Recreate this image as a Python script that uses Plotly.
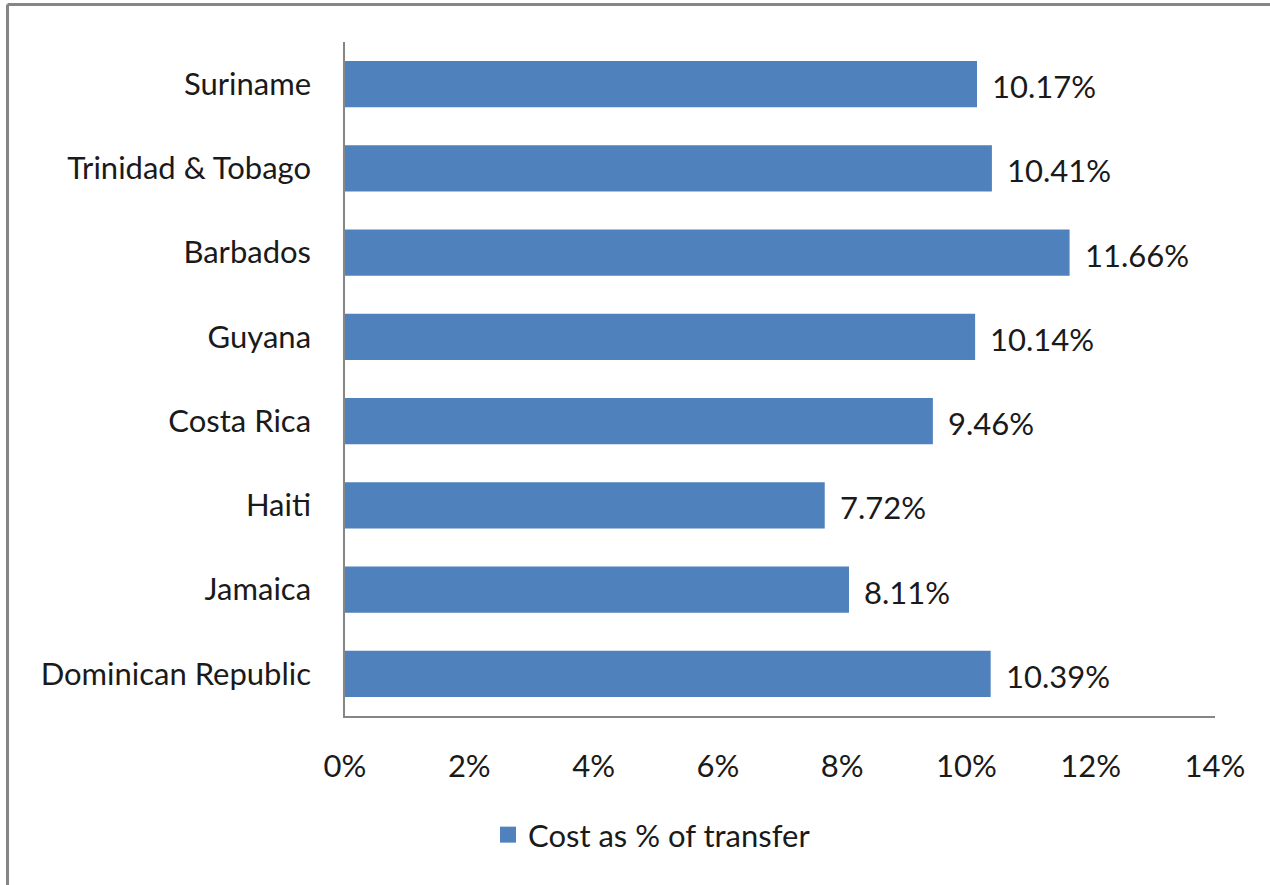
import plotly.graph_objects as go

countries = ["Dominican Republic", "Jamaica", "Haiti", "Costa Rica", "Guyana",
             "Barbados", "Trinidad & Tobago", "Suriname"]
values = [10.39, 8.11, 7.72, 9.46, 10.14, 11.66, 10.41, 10.17]
labels = ["10.39%", "8.11%", "7.72%", "9.46%", "10.14%", "11.66%", "10.41%", "10.17%"]
x_ticks = [0, 2, 4, 6, 8, 10, 12, 14]
x_ticklabels = ["0%", "2%", "4%", "6%", "8%", "10%", "12%", "14%"]
series_name = "Cost as % of transfer"

FONT = "Lato"
FS = 31
BAR = "#4F81BD"
TXT = "#1a1a1a"
FRAME = "#868686"
W, H = 1270, 885
L, R, T, B = 345, 55, 42, 169
pw, ph = W - L - R, H - T - B

def px(x):
    return (x - L) / pw

def py(y):
    return (H - B - y) / ph

fig = go.Figure()
fig.add_trace(go.Bar(
    x=values, y=countries, orientation="h", name=series_name,
    marker=dict(color=BAR, line=dict(width=0)),
    showlegend=False,
))
# legend entry with a larger square key
fig.add_trace(go.Scatter(
    x=[None], y=[None], mode="markers", name=series_name,
    marker=dict(symbol="square", size=20, color=BAR),
    showlegend=True,
))

for c, v, lab in zip(countries, values, labels):
    fig.add_annotation(x=v, y=c, text=lab, showarrow=False, xanchor="left",
                       xshift=13, yshift=-2, font=dict(family=FONT, size=FS, color=TXT))

# outer frame (only top and left edges are visible in the picture)
fig.add_shape(type="line", xref="paper", yref="paper",
              x0=px(7.5), x1=px(1275), y0=py(4.5), y1=py(4.5),
              line=dict(color=FRAME, width=3), layer="below")
fig.add_shape(type="line", xref="paper", yref="paper",
              x0=px(7.5), x1=px(7.5), y0=py(4.5), y1=py(890),
              line=dict(color=FRAME, width=3), layer="below")

fig.update_layout(
    width=W, height=H,
    margin=dict(l=L, r=R, t=T, b=B, pad=0),
    paper_bgcolor="white", plot_bgcolor="white",
    font=dict(family=FONT, size=FS, color=TXT),
    bargap=0.45,
    xaxis=dict(range=[0, 14], tickvals=x_ticks, ticktext=x_ticklabels,
               showgrid=False, zeroline=False, showline=True,
               linecolor=FRAME, linewidth=1.5, ticks="",
               ticklabelstandoff=22, tickfont=dict(family=FONT, size=FS, color=TXT)),
    yaxis=dict(categoryorder="array", categoryarray=countries,
               showgrid=False, zeroline=False, showline=True,
               linecolor=FRAME, linewidth=1.5, ticks="",
               ticklabelstandoff=26, tickfont=dict(family=FONT, size=FS, color=TXT)),
    legend=dict(orientation="h", x=px(652), xanchor="center", y=py(835), yanchor="middle",
                font=dict(family=FONT, size=FS, color=TXT), bgcolor="rgba(0,0,0,0)",
                itemsizing="trace"),
)

fig.write_html("out.html", config={"displayModeBar": False},
               post_script="document.body.style.margin='0';document.body.style.overflow='hidden';")
